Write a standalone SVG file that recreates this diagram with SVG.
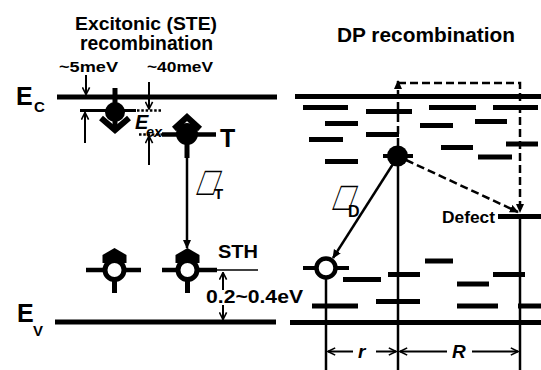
<svg xmlns="http://www.w3.org/2000/svg" width="541" height="370" viewBox="0 0 541 370">
<style>
.t{font-family:"Liberation Sans",Arial,sans-serif;font-weight:bold;fill:#000}
.bi{font-style:italic}
.sym{font-family:"DejaVu Sans ExtraLight","DejaVu Sans",sans-serif;font-weight:200;fill:#000}
.band{stroke:#000;stroke-width:5;fill:none}
.lvl{stroke:#000;stroke-width:5;fill:none}
.thin{stroke:#000;stroke-width:2;fill:none}
.vl{stroke:#000;stroke-width:2.5;fill:none}
.dash{stroke:#000;stroke-width:2.5;fill:none;stroke-dasharray:8 4}
.dot{stroke:#000;stroke-width:2.5;fill:none;stroke-dasharray:2.5 1.8}
.ring{fill:#fff;stroke:#000;stroke-width:5}
</style>
<defs>
<marker id="open" viewBox="0 0 10 10" refX="9" refY="5" markerWidth="9" markerHeight="9" markerUnits="userSpaceOnUse" orient="auto">
<path d="M1,1 L9,5 L1,9" fill="none" stroke="#000" stroke-width="1.8"/>
</marker>
<marker id="fill" viewBox="0 0 10 10" refX="9" refY="5" markerWidth="9" markerHeight="9" markerUnits="userSpaceOnUse" orient="auto">
<path d="M0,0.5 L10,5 L0,9.5 Z" fill="#000"/>
</marker>
</defs>

<g id="titles">
<text class="t" x="146" y="29.5" font-size="19" text-anchor="middle" textLength="142" lengthAdjust="spacingAndGlyphs">Excitonic (STE)</text>
<text class="t" x="146.5" y="50" font-size="19.5" text-anchor="middle" textLength="133" lengthAdjust="spacingAndGlyphs">recombination</text>
<text class="t" x="426" y="41.5" font-size="20.5" text-anchor="middle" textLength="178" lengthAdjust="spacingAndGlyphs">DP recombination</text>
</g>

<g id="bands">
<line class="band" x1="57" y1="97" x2="277" y2="97"/>
<line class="band" x1="295" y1="96.5" x2="541" y2="96.5"/>
<line class="band" x1="55" y1="322" x2="276" y2="322"/>
<line class="band" x1="290" y1="322.5" x2="541" y2="322.5"/>
<text class="t" x="16" y="105" font-size="25">E</text>
<text class="t" x="34" y="112" font-size="15">C</text>
<text class="t" x="17" y="322" font-size="25">E</text>
<text class="t" x="33" y="336" font-size="15">V</text>
</g>

<g id="exciton">
<line x1="80" y1="110.5" x2="136" y2="110.5" stroke="#000" stroke-width="3"/>
<line x1="115" y1="88" x2="115" y2="126" stroke="#000" stroke-width="5"/>
<circle cx="115" cy="112" r="10" fill="#000"/>
<polyline points="101,118 115,130 129,118" fill="none" stroke="#000" stroke-width="6"/>
<text class="t" x="59" y="72" font-size="15" textLength="59" lengthAdjust="spacingAndGlyphs">~5meV</text>
<text class="t" x="147" y="72" font-size="15" textLength="66" lengthAdjust="spacingAndGlyphs">~40meV</text>
<line class="dot" x1="137" y1="110.5" x2="162" y2="110.5"/>
<line class="dot" x1="139" y1="134.5" x2="162" y2="134.5"/>
<text class="t bi" x="135" y="129" font-size="20">E</text>
<text class="t bi" x="146" y="137" font-size="14.5">ex</text>
</g>

<g id="triplet">
<line x1="162" y1="134.5" x2="216" y2="134.5" stroke="#000" stroke-width="4.5"/>
<line x1="187" y1="134" x2="187" y2="158" stroke="#000" stroke-width="5"/>
<circle cx="187" cy="134" r="11" fill="#000"/>
<polyline points="174,129 187,117 200,129" fill="none" stroke="#000" stroke-width="6"/>
<text class="t" x="220" y="147" font-size="25">T</text>
</g>

<g id="sth1">
<line x1="86" y1="270" x2="141" y2="270" stroke="#000" stroke-width="4.5"/>
<line x1="114.5" y1="278" x2="114.5" y2="293" stroke="#000" stroke-width="5"/>
<polygon points="114.5,248 126.5,255 126.5,263 102.5,263 102.5,255" fill="#000"/>
<circle class="ring" cx="114.5" cy="270" r="9.5"/>
</g>

<g id="sth2">
<line x1="162" y1="270" x2="217" y2="270" stroke="#000" stroke-width="4.5"/>
<line x1="187.5" y1="278" x2="187.5" y2="293" stroke="#000" stroke-width="5"/>
<polygon points="187.5,248 199.5,255 199.5,263 175.5,263 175.5,255" fill="#000"/>
<circle class="ring" cx="187.5" cy="270" r="9.5"/>
<line x1="217" y1="270" x2="258" y2="270" stroke="#000" stroke-width="1.5"/>
<text class="t" x="218" y="258" font-size="18" textLength="40" lengthAdjust="spacingAndGlyphs">STH</text>
<text class="t" x="206" y="303" font-size="18" textLength="97" lengthAdjust="spacingAndGlyphs">0.2~0.4eV</text>
</g>

<g id="dp-electron">
<line x1="383" y1="156" x2="413" y2="156" stroke="#000" stroke-width="4"/>
<circle cx="397.5" cy="156" r="10.5" fill="#000"/>
</g>

<g id="dp-hole">
<line x1="303" y1="268" x2="349" y2="268" stroke="#000" stroke-width="4"/>
<circle cx="326" cy="268" r="9.5" fill="#fff" stroke="#000" stroke-width="4.5"/>
</g>

<g id="defect">
<line x1="498" y1="216.5" x2="541" y2="216.5" stroke="#000" stroke-width="5"/>
<text class="t" x="442" y="223" font-size="16.5" textLength="53" lengthAdjust="spacingAndGlyphs">Defect</text>
</g>

<g id="levels">
<line class="lvl" x1="303" y1="107.5" x2="348" y2="107.5"/>
<line class="lvl" x1="366" y1="111.5" x2="412" y2="111.5"/>
<line class="lvl" x1="429" y1="107.5" x2="476" y2="107.5"/>
<line class="lvl" x1="493" y1="107.5" x2="538" y2="107.5"/>
<line class="lvl" x1="325" y1="123.5" x2="358" y2="123.5"/>
<line class="lvl" x1="420" y1="125.5" x2="453" y2="125.5"/>
<line class="lvl" x1="475" y1="121.5" x2="507" y2="121.5"/>
<line class="lvl" x1="309" y1="139.5" x2="343" y2="139.5"/>
<line class="lvl" x1="366" y1="134.5" x2="399" y2="134.5"/>
<line class="lvl" x1="441" y1="147.5" x2="473" y2="147.5"/>
<line class="lvl" x1="506" y1="144" x2="538" y2="144"/>
<line class="lvl" x1="325" y1="161.5" x2="358" y2="161.5"/>
<line class="lvl" x1="478" y1="157" x2="512" y2="157"/>
<line class="lvl" x1="425" y1="261" x2="453" y2="261"/>
<line class="lvl" x1="388" y1="274.5" x2="420" y2="274.5"/>
<line class="lvl" x1="493" y1="274.5" x2="525" y2="274.5"/>
<line class="lvl" x1="343" y1="279.5" x2="381" y2="279.5"/>
<line class="lvl" x1="457" y1="284" x2="489" y2="284"/>
<line class="lvl" x1="312" y1="306" x2="358" y2="306"/>
<line class="lvl" x1="376" y1="301.5" x2="420" y2="301.5"/>
<line class="lvl" x1="457" y1="306" x2="498" y2="306"/>
<line class="lvl" x1="518" y1="306" x2="541" y2="306"/>
</g>

<g id="connectors">
<line class="thin" x1="86" y1="75" x2="86" y2="94.5" marker-end="url(#open)"/>
<line class="thin" x1="85" y1="143" x2="85" y2="112.5" marker-end="url(#open)"/>
<line class="thin" x1="149" y1="82" x2="149" y2="109" marker-end="url(#open)"/>
<line class="thin" x1="149" y1="165" x2="149" y2="136" marker-end="url(#open)"/>
<line class="thin" x1="223" y1="290" x2="223" y2="272.5" marker-end="url(#open)"/>
<line class="thin" x1="223" y1="305" x2="223" y2="319.5" marker-end="url(#open)"/>
<line class="vl" x1="187" y1="150" x2="187" y2="248" marker-end="url(#fill)"/>
<line class="vl" x1="393" y1="164" x2="333" y2="258" marker-end="url(#fill)"/>
<line class="vl" x1="326" y1="278" x2="326" y2="370"/>
<line class="vl" x1="398" y1="166" x2="398" y2="370"/>
<line class="vl" x1="520" y1="219" x2="520" y2="370"/>
<line class="dash" x1="398" y1="146" x2="398" y2="81" marker-end="url(#fill)"/>
<path class="dash" d="M398,83 H520 V212" marker-end="url(#fill)"/>
<line class="dash" x1="406" y1="160" x2="518" y2="212" marker-end="url(#fill)"/>
<line class="thin" x1="353" y1="351.5" x2="328" y2="351.5" marker-end="url(#open)"/>
<line class="thin" x1="376" y1="351.5" x2="396" y2="351.5" marker-end="url(#open)"/>
<line class="thin" x1="447" y1="351.5" x2="400" y2="351.5" marker-end="url(#open)"/>
<line class="thin" x1="472" y1="351.5" x2="518" y2="351.5" marker-end="url(#open)"/>
</g>

<g id="labels">
<text class="sym" transform="translate(196,195) skewX(-20) scale(1,1.4)" x="0" y="0" font-size="29">□</text>
<text class="t" x="214" y="199" font-size="15">T</text>
<text class="sym" transform="translate(332,210) skewX(-20) scale(1,1.4)" x="0" y="0" font-size="29">□</text>
<text class="t" x="348" y="217" font-size="16">D</text>
<text class="t bi" x="358" y="358" font-size="19">r</text>
<text class="t bi" x="452" y="358" font-size="19">R</text>
</g>
</svg>
